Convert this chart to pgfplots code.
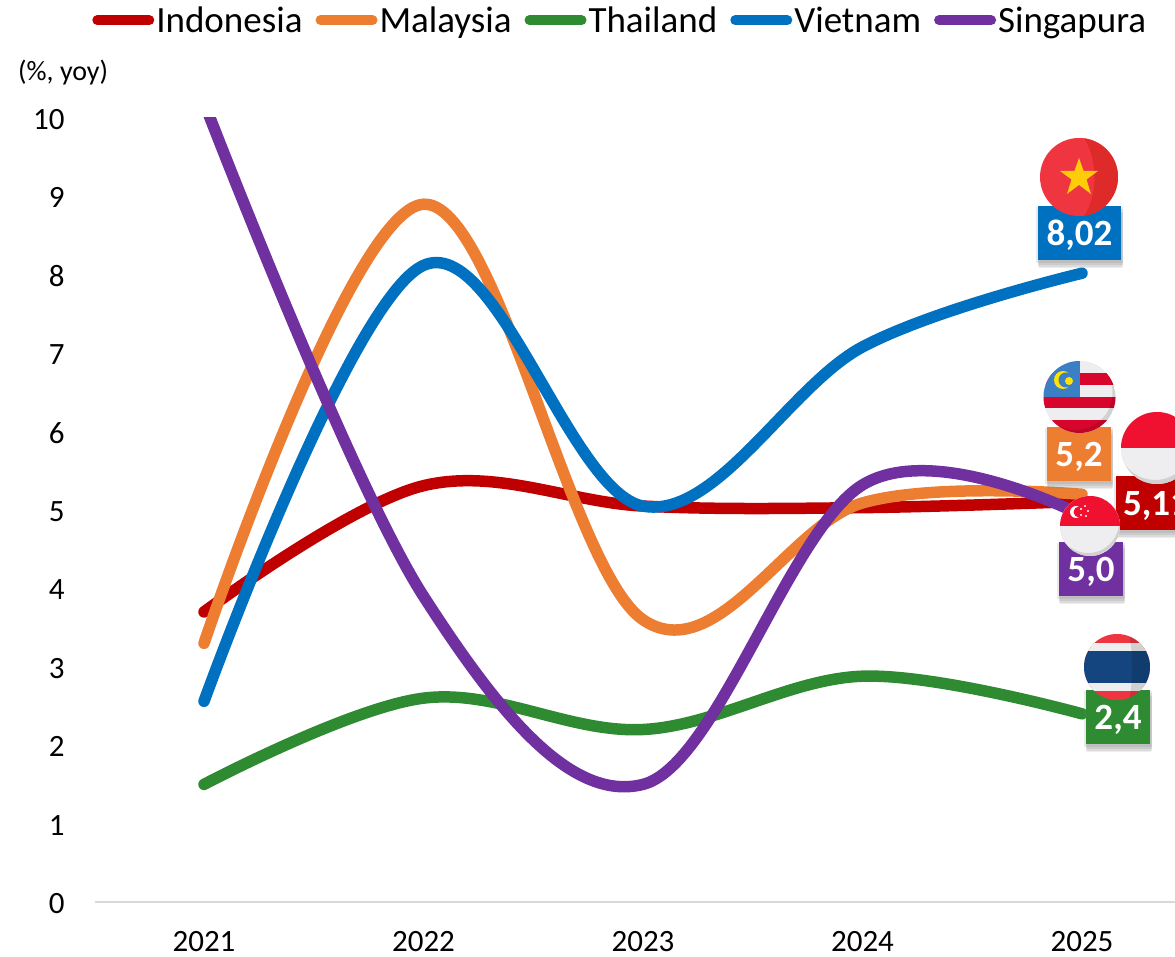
\documentclass[border=0pt]{standalone}
\usepackage{fontspec}
\setmainfont{Carlito}
\usepackage{pgfplots}
\pgfplotsset{compat=1.18}
\usetikzlibrary{shadows}
\definecolor{cInd}{HTML}{C00000}
\definecolor{cMal}{HTML}{ED7D31}
\definecolor{cTha}{HTML}{2E8B32}
\definecolor{cVie}{HTML}{0070C0}
\definecolor{cSin}{HTML}{7030A0}
\definecolor{flagred}{HTML}{EF3640}
\definecolor{flagdark}{HTML}{DF2A2A}
\definecolor{flagwhite}{HTML}{EEEEF0}
\definecolor{flagblue}{HTML}{14457E}
\definecolor{flagbright}{HTML}{F0102F}
\definecolor{flagmy}{HTML}{D8062C}
\definecolor{flagmyblue}{HTML}{3B7FC4}
\definecolor{flagstar}{HTML}{FFCC0C}
\newcommand{\fs}[1]{\fontsize{#1}{#1}\selectfont}
\newcommand{\vl}[1]{\smash{\raisebox{-13pt}{#1}}}
\tikzset{
  vallabel/.style={fill=#1,text=white,font=\fs{37}\bfseries,inner sep=0pt,
    drop shadow={opacity=.17,shadow xshift=0pt,shadow yshift=-2pt,shadow scale=1.05},
    drop shadow={opacity=.17,shadow xshift=1pt,shadow yshift=-4pt,shadow scale=1.03},
    drop shadow={opacity=.17,shadow xshift=1pt,shadow yshift=-6pt,shadow scale=1.02},
    drop shadow={opacity=.14,shadow xshift=1pt,shadow yshift=-8pt,shadow scale=1}}
}
\begin{document}
\begin{tikzpicture}[x=1pt,y=1pt]
\path[use as bounding box] (0,0) rectangle (1175,957);
\clip (0,0) rectangle (1175,957);
\begin{axis}[
  at={(95pt,55pt)},anchor=south west,
  scale only axis,width=1080pt,height=784pt,
  xmin=2020.5034,xmax=2025.4237,ymin=0,ymax=10,
  axis x line=bottom,axis y line=left,
  axis line style={-},
  x axis line style={draw=black!15,line width=2pt},
  y axis line style={draw=none},
  major tick length=0pt,
  xtick={2021,2022,2023,2024,2025},
  ytick={0,1,2,3,4,5,6,7,8,9,10},
  /pgf/number format/assume math mode=true,
  /pgf/number format/1000 sep={},
  ticklabel style={font=\fs{31}},
  yticklabel style={anchor=east,xshift=-27pt,yshift=-1.5pt},
  xticklabel style={anchor=center,yshift=-39.5pt},
  legend columns=5,
  legend cell align=left,
  legend style={at={(-0.0025,1.1445)},anchor=north west,draw=none,fill=none,
    font=\fs{37},inner sep=0pt,outer sep=0pt,
    /tikz/every even column/.append style={column sep=11pt}},
  legend image code/.code={\draw[#1,line width=10pt,line cap=round] (0pt,0pt)--(52pt,0pt);},
  every axis plot/.append style={smooth,tension=0.6,line width=11.5pt,line cap=round,line join=round,no marks},
]
\addplot[cInd] coordinates {(2021,3.7)(2022,5.31)(2023,5.05)(2024,5.03)(2025,5.11)};
\addplot[cMal] coordinates {(2021,3.3)(2022,8.9)(2023,3.6)(2024,5.09)(2025,5.2)};
\addplot[cTha] coordinates {(2021,1.5)(2022,2.6)(2023,2.2)(2024,2.88)(2025,2.4)};
\addplot[cVie] coordinates {(2021,2.56)(2022,8.12)(2023,5.05)(2024,7.08)(2025,8.02)};
\addplot[cSin] coordinates {(2021,10.2)(2022,3.9)(2023,1.5)(2024,5.32)(2025,4.93)};
\legend{Indonesia,Malaysia,Thailand,Vietnam,Singapura}
\end{axis}
\begin{scope}[yshift=957pt,x=1pt,y=-1pt]
\node[anchor=west,font=\fs{28},inner sep=0pt] at (18,73) {(\%, yoy)};
% value labels
\node[vallabel=cVie,minimum width=83pt,minimum height=54pt] at (1079.5,233) {\vl{8,02}};
\node[vallabel=cMal,minimum width=64pt,minimum height=54pt] at (1079,454) {\vl{5,2}};
\node[vallabel=cInd,minimum width=80pt,minimum height=54pt] at (1156,503) {\vl{5,11}};
\node[vallabel=cSin,minimum width=64pt,minimum height=54pt] at (1091,569) {\vl{5,0}};
\node[vallabel=cTha,minimum width=64pt,minimum height=54pt] at (1118,717) {\vl{2,4}};
% Vietnam flag
\begin{scope}
\clip (1079,177) circle (39);
\fill[flagred] (1040,138) rectangle (1118,216);
\fill[flagdark] (1084,138) .. controls (1098,160) and (1098,195) .. (1084,216) -- (1118,216) -- (1118,138) -- cycle;
\fill[flagstar] (1079,158)--(1083.6,171)--(1098,171)--(1086.5,179.5)--(1091,194)--(1079,185)--(1067,194)--(1071.5,179.5)--(1060,171)--(1074.4,171)--cycle;
\end{scope}
% Malaysia flag
\begin{scope}
\clip (1079.5,397) circle (36);
\fill[flagwhite] (1043,361) rectangle (1116,433);
\fill[flagmy] (1043,373) rectangle (1116,385);
\fill[flagmy] (1043,397) rectangle (1116,408);
\fill[flagmy] (1043,420) rectangle (1116,433);
\fill[flagmyblue] (1043,361) rectangle (1079.5,397);
\fill[yellow!85!orange] (1063,380) circle (9);
\fill[flagmyblue] (1066,380) circle (7.5);
\fill[yellow!85!orange] (1069,381) circle (4);
\fill[black,opacity=.12,even odd rule] (1079.5,397) circle (36) (1075.5,393) circle (37);
\end{scope}
% Indonesia flag
\begin{scope}
\clip (1157,448) circle (36);
\fill[flagwhite] (1121,412) rectangle (1193,484);
\fill[black!18,even odd rule] (1157,448) circle (36) (1155,443) circle (37);
\fill[flagbright] (1121,412) rectangle (1193,448);
\end{scope}
% Singapore flag
\begin{scope}
\clip (1090,526) circle (30);
\fill[flagwhite] (1060,496) rectangle (1120,556);
\fill[black!18,even odd rule] (1090,526) circle (30) (1088,522) circle (31);
\fill[flagbright] (1060,496) rectangle (1120,526);
\fill[white] (1076,512) circle (6);
\fill[flagbright] (1079,512) circle (5.5);
\foreach \a/\b in {1081/509,1085/506,1088/511,1086/516,1081/515}{\fill[white] (\a,\b) circle (1.2);}
\end{scope}
% Thailand flag
\begin{scope}
\clip (1117,667) circle (33);
\fill[flagred] (1084,634) rectangle (1150,700);
\fill[flagwhite] (1084,643) rectangle (1150,691);
\fill[flagblue] (1084,651) rectangle (1150,683);
\fill[black,opacity=.12] (1129,634) .. controls (1133,650) and (1133,685) .. (1129,700) -- (1150,700) -- (1150,634) -- cycle;
\end{scope}
\end{scope}
\end{tikzpicture}
\end{document}
